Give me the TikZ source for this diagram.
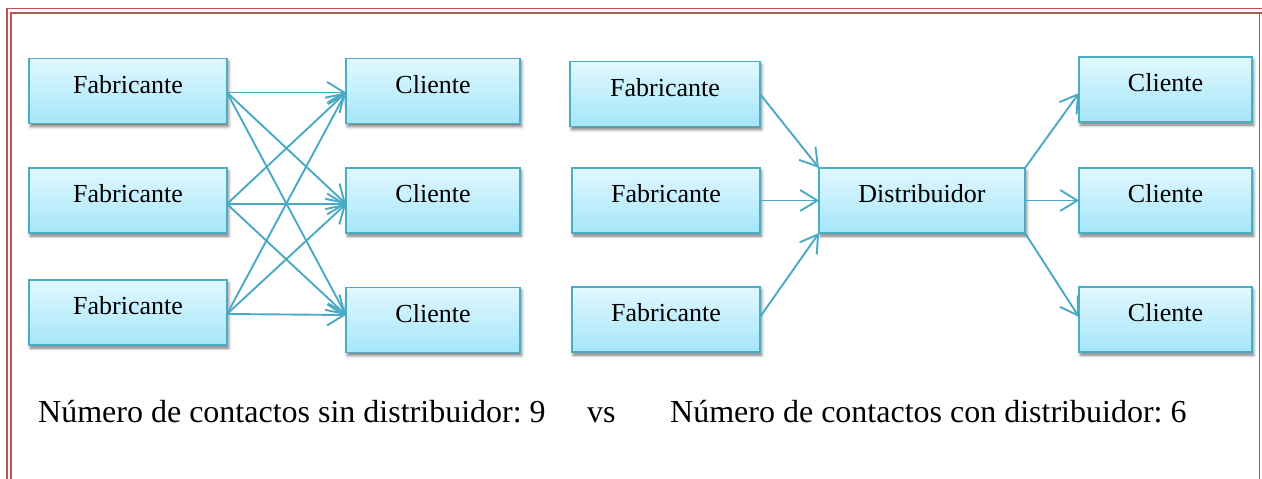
\documentclass[tikz,border=0pt]{standalone}
\usepackage{fontspec}
\setmainfont{Liberation Serif}
\usetikzlibrary{arrows.meta,shadows.blur}
\definecolor{frameRed}{HTML}{C0504D}
\definecolor{boxLine}{HTML}{4BACC6}
\definecolor{boxTop}{HTML}{E2F8FE}
\definecolor{boxBot}{HTML}{A4E6FA}
\definecolor{arrowCol}{HTML}{4AA9C4}
\tikzset{
  boxnode/.style={rectangle, draw=boxLine, line width=1.8pt, top color=boxTop, bottom color=boxBot,
    minimum height=65pt, inner sep=0pt, outer sep=0pt, text height=16pt, text depth=12pt,
    font=\fontsize{26}{30}\selectfont,
    blur shadow={shadow xshift=1.5pt, shadow yshift=-3pt, shadow blur radius=3pt, shadow opacity=55}},
  conn/.style={draw=arrowCol, line width=1.9pt, -{Straight Barb[length=17pt,width=21pt]}},
  framestroke/.style={draw=frameRed, line width=1.8pt},
  caption/.style={anchor=base west, inner sep=0pt, font=\fontsize{32}{38}\selectfont}
}
\begin{document}
\frenchspacing
\begin{tikzpicture}[x=1pt,y=-1pt]
\useasboundingbox (0,0) rectangle (1262,479);
% frame
\draw[framestroke] (7.3,479) -- (7.3,8.5) -- (1262,8.5);
\draw[framestroke] (11,479) -- (11,12.7) -- (1262,12.7);
\draw[framestroke] (1259.5,12.7) -- (1259.5,479);
% left diagram
\node[boxnode, minimum width=198pt] (f1) at (128,91) {Fabricante};
\node[boxnode, minimum width=198pt] (f2) at (128,200.5) {Fabricante};
\node[boxnode, minimum width=198pt] (f3) at (128,312.5) {Fabricante};
\node[boxnode, minimum width=174pt] (c1) at (433,91) {Cliente};
\node[boxnode, minimum width=174pt] (c2) at (433,200.5) {Cliente};
\node[boxnode, minimum width=174pt] (c3) at (433,320) {Cliente};
\coordinate (f1p) at ([yshift=-1.5pt]f1.east);
\coordinate (f2p) at ([yshift=-3.5pt]f2.east);
\coordinate (f3p) at ([yshift=-1.5pt]f3.east);
\coordinate (c1p) at ([yshift=-1.5pt]c1.west);
\coordinate (c2p) at ([yshift=-3.5pt]c2.west);
\coordinate (c3p) at ([yshift=5pt]c3.west);
\foreach \a in {f1p,f2p,f3p}{
  \foreach \b in {c1p,c2p,c3p}{
    \draw[conn] (\a) -- (\b);
  }
}
% right diagram
\node[boxnode, minimum width=190pt] (g1) at (665,94) {Fabricante};
\node[boxnode, minimum width=188pt] (g2) at (666,200.5) {Fabricante};
\node[boxnode, minimum width=188pt] (g3) at (666,319.5) {Fabricante};
\node[boxnode, minimum width=206pt] (d) at (922,200.5) {Distribuidor};
\node[boxnode, minimum width=173pt] (k1) at (1165.5,89.5) {Cliente};
\node[boxnode, minimum width=173pt] (k2) at (1165.5,200.5) {Cliente};
\node[boxnode, minimum width=173pt] (k3) at (1165.5,319.5) {Cliente};
\coordinate (g3p) at ([yshift=2.5pt]g3.east);
\coordinate (k1p) at ([yshift=-3.5pt]k1.west);
\coordinate (k3p) at ([yshift=2.5pt]k3.west);
\draw[conn] (g1.east) -- (d.north west);
\draw[conn] (g2.east) -- (d.west);
\draw[conn] (g3p) -- (d.south west);
\draw[conn] (d.north east) -- (k1p);
\draw[conn] (d.east) -- (k2.west);
\draw[conn] (d.south east) -- (k3p);
% captions
\node[caption] (t1) at (38,422) {Número de contactos sin distribuidor: 9};
\node[caption] (vs) at (587,422) {vs};
\node[caption] (t2) at (670,422) {Número de contactos con distribuidor: 6};
\end{tikzpicture}
\end{document}
